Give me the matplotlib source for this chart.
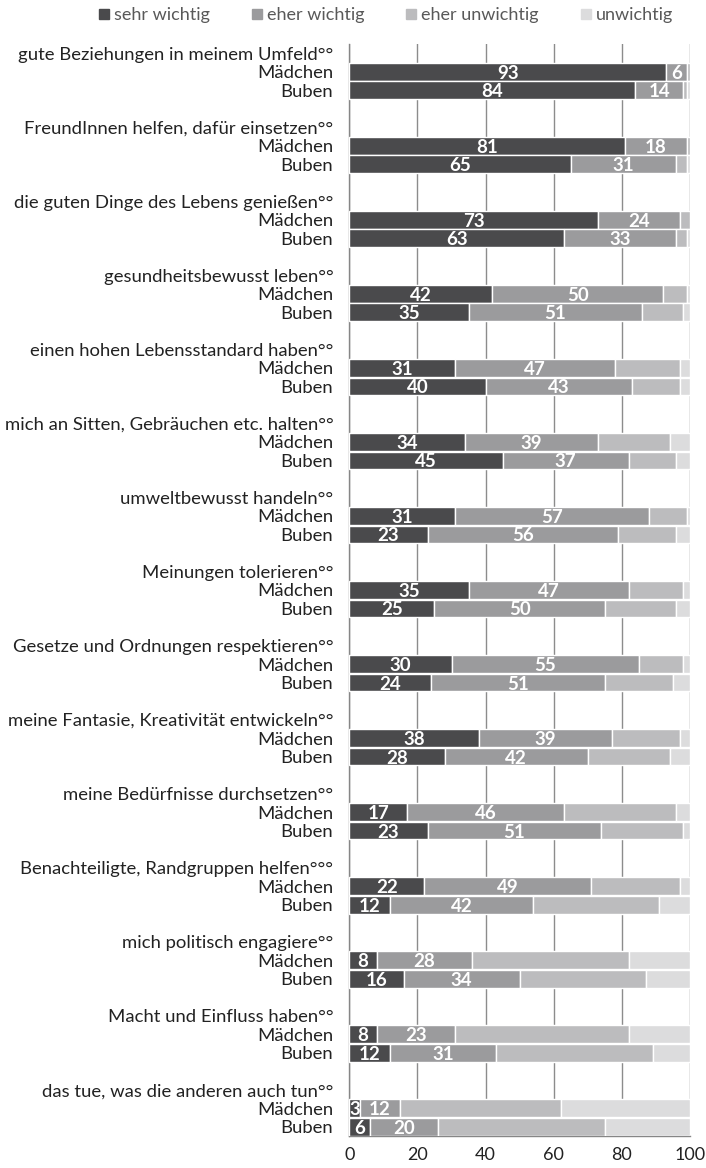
import matplotlib
matplotlib.use("Agg")
import matplotlib.pyplot as plt
from matplotlib.lines import Line2D
import numpy as np

plt.rcParams['font.family'] = ['Lato', 'DejaVu Sans']

categories = [
    "gute Beziehungen in meinem Umfeld°°",
    "FreundInnen helfen, dafür einsetzen°°",
    "die guten Dinge des Lebens genießen°°",
    "gesundheitsbewusst leben°°",
    "einen hohen Lebensstandard haben°°",
    "mich an Sitten, Gebräuchen etc. halten°°",
    "umweltbewusst handeln°°",
    "Meinungen tolerieren°°",
    "Gesetze und Ordnungen respektieren°°",
    "meine Fantasie, Kreativität entwickeln°°",
    "meine Bedürfnisse durchsetzen°°",
    "Benachteiligte, Randgruppen helfen°°°",
    "mich politisch engagiere°°",
    "Macht und Einfluss haben°°",
    "das tue, was die anderen auch tun°°",
]
groups = ["Mädchen", "Buben"]
series = ["sehr wichtig", "eher wichtig", "eher unwichtig", "unwichtig"]

# values per category: [Mädchen, Buben]
sehr_wichtig = [[93, 84], [81, 65], [73, 63], [42, 35], [31, 40], [34, 45], [31, 23],
                [35, 25], [30, 24], [38, 28], [17, 23], [22, 12], [8, 16], [8, 12], [3, 6]]
eher_wichtig = [[6, 14], [18, 31], [24, 33], [50, 51], [47, 43], [39, 37], [57, 56],
                [47, 50], [55, 51], [39, 42], [46, 51], [49, 42], [28, 34], [23, 31], [12, 20]]
eher_unwichtig = [[1, 1], [1, 3], [3, 3], [7, 12], [19, 14], [21, 14], [11, 17],
                  [16, 21], [13, 20], [20, 24], [33, 24], [26, 37], [46, 37], [51, 46], [47, 49]]
unwichtig = [[0, 1], [0, 1], [0, 1], [1, 2], [3, 3], [6, 4], [1, 4],
             [2, 4], [2, 5], [3, 6], [4, 2], [3, 9], [18, 13], [18, 11], [38, 25]]
xticks = [0, 20, 40, 60, 80, 100]

colors = ["#4a4a4c", "#9b9b9d", "#bcbcbe", "#dcdcdd"]
label_series = [0, 1]

W, H = 706, 1168
fig = plt.figure(figsize=(W / 100, H / 100), dpi=100)
left, right, top, bottom = 349.3, 690.0, 44.0, 1136.0
ax = fig.add_axes([left / W, (H - bottom) / H, (right - left) / W, (bottom - top) / H])

n = len(categories)
nrows = 4 * n - 1
all_series = [sehr_wichtig, eher_wichtig, eher_unwichtig, unwichtig]

ytick_pos, ytick_lab = [], []
for g, cat in enumerate(categories):
    ytick_pos.append(4 * g)
    ytick_lab.append(cat)
    for k, grp in enumerate(groups):
        y = 4 * g + 1 + k
        ytick_pos.append(y)
        ytick_lab.append(grp)
        start = 0
        for s, data in enumerate(all_series):
            v = data[g][k]
            if v > 0:
                ax.barh(y, v, left=start, height=0.96, color=colors[s],
                        edgecolor="white", linewidth=1.0, zorder=3)
                if s in label_series:
                    ax.text(start + v / 2, y + 0.08, str(v), ha="center", va="center",
                            color="white", fontsize=13.5, fontweight="bold", zorder=4)
            start += v

ax.set_xlim(0, 100)
ax.set_ylim(nrows - 0.5, -0.5)
ax.set_yticks(ytick_pos)
ax.set_yticklabels(ytick_lab, fontsize=13.3, color="#222222")
ax.tick_params(axis="y", length=0, pad=11.5)
ax.set_xticks(xticks)
ax.set_xticklabels([str(t) for t in xticks], fontsize=13, color="#222222")
ax.tick_params(axis="x", length=0, pad=8)
ax.grid(axis="x", color="#8c8c8c", linewidth=1.0, zorder=0)
ax.set_axisbelow(True)
for sp in ["top", "right"]:
    ax.spines[sp].set_visible(False)
ax.spines["left"].set_color("#868686")
ax.spines["bottom"].set_color("#868686")
ax.spines["left"].set_linewidth(1.0)
ax.spines["bottom"].set_linewidth(1.0)

handles = [Line2D([], [], marker="s", linestyle="none", markersize=7,
                  markerfacecolor=c, markeredgecolor=c) for c in colors]
fig.legend(handles, series, loc="center", bbox_to_anchor=(384 / W, 1 - 15 / H),
           ncol=4, frameon=False, fontsize=13, labelcolor="#595959",
           handletextpad=0.05, columnspacing=2.1, handlelength=1.0)

fig.savefig("out.png", dpi=100)
